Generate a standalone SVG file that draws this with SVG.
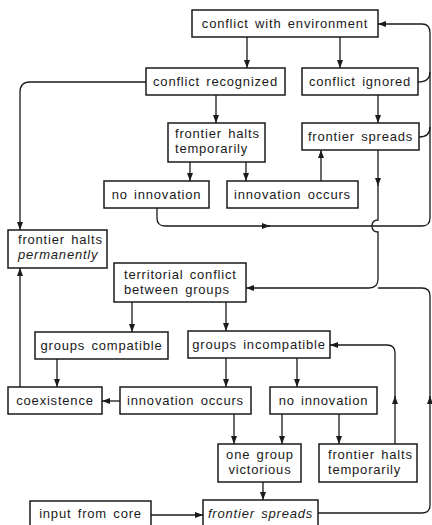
<svg xmlns="http://www.w3.org/2000/svg" width="432" height="525" viewBox="0 0 432 525">
<defs>
<marker id="arr" markerUnits="userSpaceOnUse" markerWidth="9" markerHeight="7" refX="8" refY="3" orient="auto">
<path d="M0,0 L8,3 L0,6 z" fill="#1a1a1a"/>
</marker>
<style>
rect{fill:#fff;stroke:#1a1a1a;stroke-width:1.5}
text{font-family:"Liberation Sans",Arial,sans-serif;font-size:13px;fill:#1a1a1a;letter-spacing:0.8px;word-spacing:2px}
.c{text-anchor:middle}
.i{font-style:italic}
#connectors path{fill:none;stroke:#1a1a1a;stroke-width:1.3}
.a{marker-end:url(#arr)}
</style>
</defs>
<rect x="0" y="0" width="432" height="525" style="fill:#fff;stroke:none"/>
<g id="connectors">
<path class="a" d="M247,37 V68"/>
<path class="a" d="M340,37 V68"/>
<path class="a" d="M216,95 V123"/>
<path class="a" d="M378,95 V123"/>
<path class="a" d="M146,82 H30 Q20,82 20,92 V230"/>
<path class="a" d="M190,162 V181"/>
<path class="a" d="M246,162 V181"/>
<path class="a" d="M321,181 V150"/>
<path class="a" d="M378,150 V186"/>
<path class="a" d="M378,185 V220 Q372,220 372,226 Q372,232 378,232 V279 Q378,288 369,288 H246"/>
<path class="a" d="M157,208 V218 Q157,226 165,226 H270"/>
<path class="a" d="M268,226 H422 Q430,226 430,218 V33 Q430,24 422,24 H378"/>
<path d="M418,82 Q430,82 430,72"/>
<path d="M419,137 Q430,137 430,127"/>
<path class="a" d="M132,302 V332"/>
<path class="a" d="M226,302 V331"/>
<path class="a" d="M318,513 H422 Q430,513 430,505 V396"/>
<path d="M430,398 V296 Q430,288 422,288 H378"/>
<path class="a" d="M57,359 V387"/>
<path class="a" d="M20,387 V268"/>
<path class="a" d="M226,358 V387"/>
<path class="a" d="M297,358 V387"/>
<path class="a" d="M120,401 H102"/>
<path class="a" d="M234,414 V444"/>
<path class="a" d="M282,414 V444"/>
<path class="a" d="M339,414 V444"/>
<path class="a" d="M395,444 V396"/>
<path class="a" d="M395,398 V353 Q395,345 387,345 H330"/>
<path class="a" d="M263,482 V500"/>
<path class="a" d="M151,515 H203"/>
</g>
<g id="n-env"><rect x="192" y="10" width="186" height="27"/><text class="c" x="285" y="28">conflict with environment</text></g>
<g id="n-recognized"><rect x="146" y="68" width="139" height="27"/><text class="c" x="215.5" y="86">conflict recognized</text></g>
<g id="n-ignored"><rect x="302" y="68" width="116" height="27"/><text class="c" x="360" y="86">conflict ignored</text></g>
<g id="n-halts-top"><rect x="168" y="123" width="97" height="39"/><text x="175" y="138">frontier halts</text><text x="175" y="153">temporarily</text></g>
<g id="n-spreads-top"><rect x="302" y="123" width="117" height="27"/><text class="c" x="360.5" y="141">frontier spreads</text></g>
<g id="n-noinnov-top"><rect x="104" y="181" width="105" height="27"/><text class="c" x="156.5" y="199">no innovation</text></g>
<g id="n-innov-top"><rect x="227" y="181" width="131" height="27"/><text class="c" x="292.5" y="199">innovation occurs</text></g>
<g id="n-permanent"><rect x="8" y="230" width="99" height="38"/><text x="18" y="244">frontier halts</text><text class="i" x="18" y="259">permanently</text></g>
<g id="n-territorial"><rect x="114" y="263" width="132" height="39"/><text x="124" y="279">territorial conflict</text><text x="124" y="294">between groups</text></g>
<g id="n-compatible"><rect x="35" y="332" width="133" height="27"/><text class="c" x="101.5" y="350">groups compatible</text></g>
<g id="n-incompatible"><rect x="188" y="331" width="142" height="27"/><text class="c" x="259" y="349">groups incompatible</text></g>
<g id="n-coexistence"><rect x="8" y="387" width="94" height="27"/><text class="c" x="55" y="405">coexistence</text></g>
<g id="n-innov-bottom"><rect x="120" y="387" width="131" height="27"/><text class="c" x="185.5" y="405">innovation occurs</text></g>
<g id="n-noinnov-bottom"><rect x="270" y="387" width="107" height="27"/><text class="c" x="323.5" y="405">no innovation</text></g>
<g id="n-victorious"><rect x="218" y="444" width="83" height="38"/><text class="c" x="260" y="459">one group</text><text class="c" x="260" y="474">victorious</text></g>
<g id="n-halts-bottom"><rect x="319" y="444" width="98" height="38"/><text x="328" y="459">frontier halts</text><text x="328" y="474">temporarily</text></g>
<g id="n-input"><rect x="30" y="501" width="121" height="30"/><text class="c" x="90.5" y="518">input from core</text></g>
<g id="n-spreads-bottom"><rect x="203" y="500" width="115" height="30"/><text class="c i" x="260.5" y="518">frontier spreads</text></g>
</svg>
